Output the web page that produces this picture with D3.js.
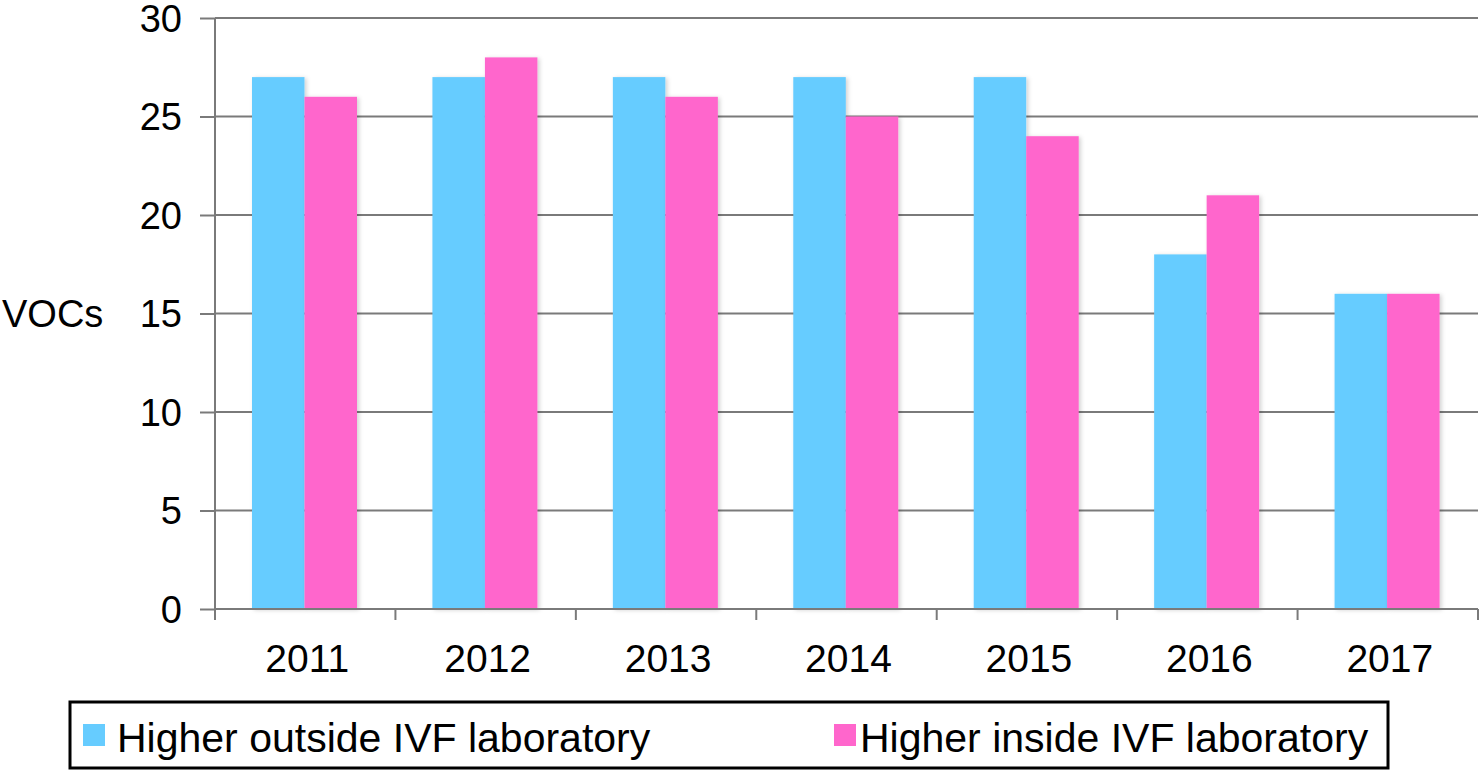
<!DOCTYPE html>
<html>
<head>
<meta charset="utf-8">
<script src="https://cdn.jsdelivr.net/npm/d3@7"></script>
<style>
  body { margin: 0; background: #fff; }
  text { font-family: "Liberation Sans", Arial, Helvetica, sans-serif; fill: #000; }
</style>
</head>
<body>
<div id="chart"></div>
<script>
// Chart data
var years = ["2011", "2012", "2013", "2014", "2015", "2016", "2017"];
var seriesNames = ["Higher outside IVF laboratory", "Higher inside IVF laboratory"];
var outsideVals = [27, 27, 27, 27, 27, 18, 16];
var insideVals = [26, 28, 26, 25, 24, 21, 16];
var seriesColors = ["#66ccff", "#ff66cc"];
var yTicks = [0, 5, 10, 15, 20, 25, 30];

var svgWidth = 1480, svgHeight = 771;

// plot area
var plot = { left: 215, right: 1478, top: 18, bottom: 609 };

var svg = d3.select("#chart").append("svg")
    .attr("width", svgWidth)
    .attr("height", svgHeight);

// soft shadow under the bars
var defs = svg.append("defs");
defs.append("filter").attr("id", "shadow")
    .attr("x", "-20%").attr("y", "-5%").attr("width", "140%").attr("height", "110%")
  .append("feDropShadow")
    .attr("dx", 2).attr("dy", 1)
    .attr("stdDeviation", 2)
    .attr("flood-color", "#000")
    .attr("flood-opacity", 0.18);

// scales
var xScale = d3.scaleBand().domain(years).range([plot.left, plot.right]);
var inner = d3.scaleBand().domain(seriesNames)
    .range([37, 37 + 105]);
var yScale = d3.scaleLinear().domain([0, 30]).range([plot.bottom, plot.top]);

// gridlines
svg.append("g").selectAll("line")
    .data(yTicks.filter(d => d > 0))
    .enter().append("line")
    .attr("x1", plot.left).attr("x2", plot.right)
    .attr("y1", d => yScale(d)).attr("y2", d => yScale(d))
    .attr("stroke", "#7a7a7a").attr("stroke-width", 2);

// bars
var rows = years.map((y, i) => ({ year: y, vals: [outsideVals[i], insideVals[i]] }));
var groups = svg.append("g").selectAll("g")
    .data(rows)
    .enter().append("g")
    .attr("transform", d => `translate(${xScale(d.year)},0)`);

groups.selectAll("rect")
    .data(d => d.vals.map((v, j) => ({ name: seriesNames[j], value: v, color: seriesColors[j] })))
    .enter().append("rect")
    .attr("x", d => inner(d.name))
    .attr("width", inner.bandwidth())
    .attr("y", d => yScale(d.value))
    .attr("height", d => plot.bottom - yScale(d.value))
    .attr("fill", d => d.color)
    .attr("filter", "url(#shadow)");

// y axis
var leftAxis = d3.axisLeft(yScale).tickValues(yTicks).tickSize(15).tickPadding(18);
var yAxisG = svg.append("g")
    .attr("transform", `translate(${plot.left},0)`)
    .call(leftAxis);
yAxisG.select(".domain").attr("stroke", "#7a7a7a").attr("stroke-width", 2)
    .attr("d", `M0,${plot.top}V${plot.bottom}`);
yAxisG.selectAll(".tick line").attr("stroke", "#7a7a7a").attr("stroke-width", 2);
yAxisG.selectAll(".tick text")
    .attr("font-size", "38px")
    .attr("font-family", "Liberation Sans, Arial, sans-serif")
    .attr("fill", "#000")
    .attr("dy", "0.35em");

// x axis: ticks between categories
var xAxisG = svg.append("g");
xAxisG.append("line")
    .attr("x1", plot.left).attr("x2", plot.right)
    .attr("y1", plot.bottom).attr("y2", plot.bottom)
    .attr("stroke", "#7a7a7a").attr("stroke-width", 2);
var edges = years.map(d => xScale(d)).concat([plot.right]);
xAxisG.selectAll(".edge")
    .data(edges)
    .enter().append("line")
    .attr("class", "edge")
    .attr("x1", d => d).attr("x2", d => d)
    .attr("y1", plot.bottom).attr("y2", plot.bottom + 11)
    .attr("stroke", "#7a7a7a").attr("stroke-width", 2);
xAxisG.selectAll(".lbl")
    .data(years)
    .enter().append("text")
    .attr("class", "lbl")
    .attr("x", d => xScale(d) + xScale.bandwidth() / 2 + 2)
    .attr("y", 672)
    .attr("text-anchor", "middle")
    .attr("font-size", "39px")
    .text(d => d);

// y axis title
svg.append("text")
    .attr("x", 2).attr("y", 327)
    .attr("font-size", "38px")
    .text("VOCs");

// legend
var legend = svg.append("g");
legend.append("rect")
    .attr("x", 70).attr("y", 702)
    .attr("width", 1318).attr("height", 66)
    .attr("fill", "none").attr("stroke", "#000").attr("stroke-width", 3);
var legendPos = [83, 834];
var items = legend.selectAll(".item")
    .data(seriesNames)
    .enter().append("g")
    .attr("class", "item")
    .attr("transform", (d, i) => `translate(${legendPos[i]},0)`);
items.append("rect")
    .attr("x", 0).attr("y", 724)
    .attr("width", 22).attr("height", 22)
    .attr("fill", (d, i) => seriesColors[i]);
items.append("text")
    .attr("x", (d, i) => i === 0 ? 34 : 26)
    .attr("y", 752)
    .attr("font-size", "41px")
    .text(d => d);
</script>
</body>
</html>
